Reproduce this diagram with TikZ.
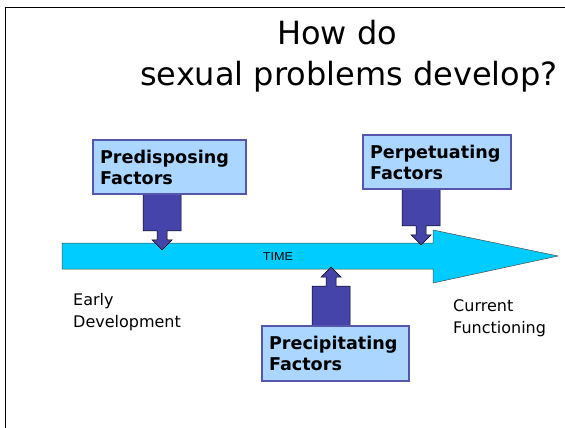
\documentclass[tikz,border=0pt]{standalone}
\usepackage{fontspec}
\setmainfont{DejaVu Sans}
\newfontfamily\timefont{Liberation Sans}
\definecolor{barcyan}{RGB}{0,204,255}
\definecolor{boxfill}{RGB}{170,214,255}
\definecolor{boxline}{RGB}{86,86,172}
\definecolor{pushfill}{RGB}{68,68,170}

\tikzset{
  factorbox/.style={draw=boxline, line width=1.8pt, fill=boxfill, inner xsep=7pt,
    minimum height=54pt, align=left,
    font=\bfseries\fontsize{17.6}{21}\selectfont},
  pusharrow/.style={draw=black, line width=0.6pt, fill=pushfill, line join=miter},
  timebar/.style={draw=black!70, line width=0.5pt, fill=barcyan},
  plainlabel/.style={anchor=base west, inner sep=0pt, align=left,
    font=\fontsize{16}{22}\selectfont}
}

\begin{document}
\begin{tikzpicture}[x=1pt, y=-1pt]
\useasboundingbox (0,0) rectangle (565,428);
\draw [line width=1.8pt] (5.5,7.5) rectangle (620,480);

% title
\node [anchor=base west, inner sep=0pt, font=\fontsize{32}{38}\selectfont] (title1) at (277,45) {How do};
\node [anchor=base west, inner sep=0pt, font=\fontsize{32}{38}\selectfont] (title2) at (140,85) {sexual problems develop?};

% time line
\draw [timebar] (62,243) -- (433,243) -- (433,230) -- (558,256) -- (433,283) -- (433,269) -- (62,269) -- cycle;
\node [font=\timefont\fontsize{11.5}{13}\selectfont, xscale=1.1, transform shape] (time) at (278,256.5) {TIME};

% factor boxes
\node [factorbox, text width=139pt] (pre) at (169.5,167) {Predisposing\\Factors};
\node [factorbox, text width=134pt] (perp) at (437,162) {Perpetuating\\Factors};
\node [factorbox, text width=133pt, minimum height=55pt] (prec) at (335.5,353.5) {Precipitating\\Factors};

% fat arrows onto the time line
\draw [pusharrow] (pre.south west) ++(51,-1) -- ++(0,37) -- ++(14,0) -- ++(0,9) -- ++(-5,0) -- ++(10,10)
  -- ++(10,-10) -- ++(-5,0) -- ++(0,-9) -- ++(14,0) -- ++(0,-37) -- cycle;
\draw [pusharrow] (perp.south west) ++(40,-1) -- ++(0,37) -- ++(14,0) -- ++(0,9) -- ++(-5,0) -- ++(10,10)
  -- ++(10,-10) -- ++(-5,0) -- ++(0,-9) -- ++(14,0) -- ++(0,-37) -- cycle;
\draw [pusharrow] (prec.north west) ++(51,1) -- ++(0,-40) -- ++(14,0) -- ++(0,-9) -- ++(-5,0) -- ++(10,-10)
  -- ++(10,10) -- ++(-5,0) -- ++(0,9) -- ++(14,0) -- ++(0,40) -- cycle;

% redraw boxes over the arrow ends
\node [factorbox, text width=139pt] at (169.5,167) {Predisposing\\Factors};
\node [factorbox, text width=134pt] at (437,162) {Perpetuating\\Factors};
\node [factorbox, text width=133pt, minimum height=55pt] at (335.5,353.5) {Precipitating\\Factors};

% ends of the time line (base = last line)
\node [plainlabel] (early) at (73,327) {Early\\Development};
\node [plainlabel] (current) at (453,333) {Current\\Functioning};
\end{tikzpicture}
\end{document}
